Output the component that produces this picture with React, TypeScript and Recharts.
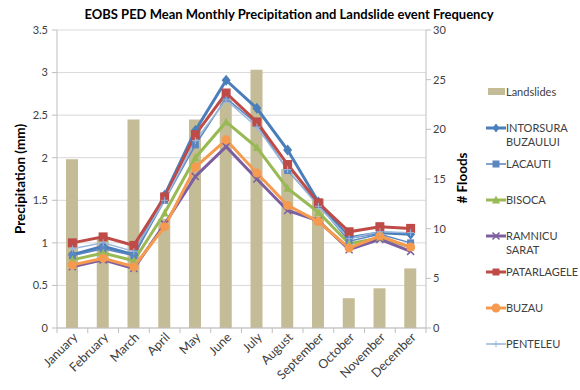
import React from 'react';
import {
  ComposedChart,
  Bar,
  Line,
  XAxis,
  YAxis,
  CartesianGrid,
} from 'recharts';

const months = [
  'January', 'February', 'March', 'April', 'May', 'June',
  'July', 'August', 'September', 'October', 'November', 'December',
];

// landslide event counts per month (right axis)
const landslides = [17, 9, 21, 11, 21, 23, 26, 16, 13, 3, 4, 6];

// mean monthly precipitation per station, mm (left axis)
const intorsura = [0.86, 0.96, 0.86, 1.56, 2.32, 2.91, 2.58, 2.09, 1.48, 1.06, 1.12, 1.1];
const lacauti = [0.85, 0.93, 0.85, 1.5, 2.15, 2.7, 2.4, 1.85, 1.45, 1.02, 1.1, 1.0];
const bisoca = [0.8, 0.88, 0.79, 1.35, 2.0, 2.42, 2.12, 1.64, 1.36, 0.99, 1.06, 0.95];
const ramnicu = [0.72, 0.8, 0.7, 1.22, 1.78, 2.13, 1.75, 1.38, 1.26, 0.92, 1.04, 0.9];
const patarlagele = [1.0, 1.07, 0.97, 1.54, 2.27, 2.76, 2.42, 1.92, 1.47, 1.13, 1.19, 1.17];
const buzau = [0.74, 0.82, 0.72, 1.19, 1.89, 2.21, 1.82, 1.44, 1.25, 0.94, 1.08, 0.95];
const penteleu = [0.93, 1.0, 0.9, 1.5, 2.2, 2.68, 2.36, 1.86, 1.43, 1.05, 1.13, 1.12];

const leftTicks = [0, 0.5, 1, 1.5, 2, 2.5, 3, 3.5];
const rightTicks = [0, 5, 10, 15, 20, 25, 30];

type Shape = 'diamond' | 'square' | 'triangle' | 'cross' | 'circle' | 'plus';

const stations: { key: string; name: string[]; values: number[]; color: string; shape: Shape; width: number }[] = [
  { key: 'intorsura', name: ['INTORSURA', 'BUZAULUI'], values: intorsura, color: '#4A7EBB', shape: 'diamond', width: 3 },
  { key: 'lacauti', name: ['LACAUTI'], values: lacauti, color: '#5B86C0', shape: 'square', width: 1.5 },
  { key: 'bisoca', name: ['BISOCA'], values: bisoca, color: '#98B954', shape: 'triangle', width: 3 },
  { key: 'ramnicu', name: ['RAMNICU', 'SARAT'], values: ramnicu, color: '#7D5FA0', shape: 'cross', width: 3 },
  { key: 'patarlagele', name: ['PATARLAGELE'], values: patarlagele, color: '#BE4B48', shape: 'square', width: 3 },
  { key: 'buzau', name: ['BUZAU'], values: buzau, color: '#F59A4F', shape: 'circle', width: 3 },
  { key: 'penteleu', name: ['PENTELEU'], values: penteleu, color: '#9BB7DB', shape: 'plus', width: 1.5 },
];

const data = months.map((m, i) => {
  const row: Record<string, string | number> = { month: m, landslides: landslides[i] };
  stations.forEach((s) => {
    row[s.key] = s.values[i];
  });
  return row;
});

const FONT = 'Lato, "Open Sans", sans-serif';
const BAR_COLOR = '#C4BC96';
const PLOT_LEFT = 57;
const PLOT_RIGHT = 426;
const BAND = (PLOT_RIGHT - PLOT_LEFT) / months.length;

function Marker({ cx, cy, shape, color, big }: { cx: number; cy: number; shape: Shape; color: string; big?: boolean }) {
  const r = big ? 4.5 : 3.5;
  switch (shape) {
    case 'diamond':
      return <path d={`M${cx},${cy - r - 1}L${cx + r},${cy}L${cx},${cy + r + 1}L${cx - r},${cy}Z`} fill={color} />;
    case 'square':
      return <rect x={cx - r} y={cy - r} width={r * 2} height={r * 2} fill={color} />;
    case 'triangle':
      return <path d={`M${cx},${cy - r - 1}L${cx + r + 0.5},${cy + r}L${cx - r - 0.5},${cy + r}Z`} fill={color} />;
    case 'cross':
      return (
        <path
          d={`M${cx - r},${cy - r}L${cx + r},${cy + r}M${cx - r},${cy + r}L${cx + r},${cy - r}`}
          stroke={color}
          strokeWidth={1.5}
        />
      );
    case 'circle':
      return <circle cx={cx} cy={cy} r={r + 1} fill={color} />;
    case 'plus':
      return <path d={`M${cx - r},${cy}L${cx + r},${cy}M${cx},${cy - r}L${cx},${cy + r}`} stroke={color} strokeWidth={1} />;
  }
  return null;
}

function makeDot(shape: Shape, color: string, big: boolean) {
  return (props: any) => {
    const { cx, cy, index } = props;
    if (cx == null || cy == null) return <g key={index} />;
    return <Marker key={index} cx={cx} cy={cy} shape={shape} color={color} big={big} />;
  };
}

function MonthTick(props: any) {
  const { x, y, payload, index } = props;
  const axisY = y - 4;
  return (
    <g>
      <line x1={x - BAND / 2} y1={axisY} x2={x - BAND / 2} y2={axisY + 5} stroke="#BFBFBF" />
      {index === months.length - 1 && (
        <line x1={x + BAND / 2} y1={axisY} x2={x + BAND / 2} y2={axisY + 5} stroke="#BFBFBF" />
      )}
      <text
        x={x + 6}
        y={y + 6}
        textAnchor="end"
        transform={`rotate(-45, ${x + 6}, ${y + 6})`}
        fontSize={12.5}
        fill="#404040"
        fontFamily={FONT}
      >
        {payload.value}
      </text>
    </g>
  );
}

function LegendPanel() {
  const items = [{ key: 'landslides', name: ['Landslides'] }, ...stations];
  return (
    <div style={{ position: 'absolute', left: 486, top: 0, fontFamily: FONT, fontSize: 11, color: '#404040' }}>
      {items.map((item, i) => {
        const top = 85 + i * 36;
        const st = stations.find((s) => s.key === item.key);
        return (
          <div key={item.key} style={{ position: 'absolute', top, left: 0, width: 92 }}>
            <svg width={20} height={14} style={{ position: 'absolute', left: 0, top: 0 }}>
              {st ? (
                <g>
                  <line x1={0} y1={7} x2={20} y2={7} stroke={st.color} strokeWidth={st.width} />
                  <Marker cx={10} cy={7} shape={st.shape} color={st.color} />
                </g>
              ) : (
                <rect x={2} y={3} width={17} height={7} fill={BAR_COLOR} />
              )}
            </svg>
            <div style={{ position: 'absolute', left: 20, top: 0, lineHeight: '14px', whiteSpace: 'nowrap' }}>
              {item.name.map((line) => (
                <div key={line}>{line}</div>
              ))}
            </div>
          </div>
        );
      })}
    </div>
  );
}

export default function App() {
  return (
    <div style={{ position: 'absolute', left: 0, top: 0, width: 580, height: 390, background: '#fff', fontFamily: FONT }}>
      <ComposedChart
        width={580}
        height={390}
        data={data}
        margin={{ top: 30, right: 126, bottom: 0, left: 22 }}
        barSize={12}
      >
        <text x={289} y={19} textAnchor="middle" fontSize={13} fontWeight="bold" fill="#000" fontFamily={FONT}>
          EOBS PED Mean Monthly Precipitation and Landslide event Frequency
        </text>
        <text
          x={25}
          y={179}
          textAnchor="middle"
          fontSize={13.5}
          fontWeight="bold"
          fill="#000"
          fontFamily={FONT}
          transform="rotate(-90, 25, 179)"
        >
          Precipitation (mm)
        </text>
        <text
          x={467}
          y={178}
          textAnchor="middle"
          fontSize={13.5}
          fontWeight="bold"
          fill="#000"
          fontFamily={FONT}
          transform="rotate(-90, 467, 178)"
        >
          # Floods
        </text>
        <CartesianGrid vertical={false} stroke="#D9D9D9" yAxisId="left" />
        <XAxis
          dataKey="month"
          interval={0}
          height={62}
          tickLine={false}
          tickSize={0}
          tickMargin={4}
          stroke="#BFBFBF"
          tick={<MonthTick />}
        />
        <YAxis
          yAxisId="left"
          domain={[0, 3.5]}
          ticks={leftTicks}
          width={35}
          stroke="#BFBFBF"
          tickSize={5}
          tickMargin={4}
          tick={{ fontSize: 11, fill: '#404040', fontFamily: FONT }}
        />
        <YAxis
          yAxisId="right"
          orientation="right"
          domain={[0, 30]}
          ticks={rightTicks}
          width={28}
          stroke="#BFBFBF"
          tickSize={5}
          tickMargin={2}
          tick={{ fontSize: 11, fill: '#404040', fontFamily: FONT, textAnchor: 'start' }}
        />
        <Bar yAxisId="right" dataKey="landslides" fill={BAR_COLOR} isAnimationActive={false} />
        {stations.map((s) => (
          <Line
            key={s.key}
            yAxisId="left"
            dataKey={s.key}
            stroke={s.color}
            strokeWidth={s.width}
            dot={makeDot(s.shape, s.color, s.key === 'patarlagele' || s.key === 'intorsura')}
            activeDot={false}
            isAnimationActive={false}
          />
        ))}
      </ComposedChart>
      <LegendPanel />
    </div>
  );
}
